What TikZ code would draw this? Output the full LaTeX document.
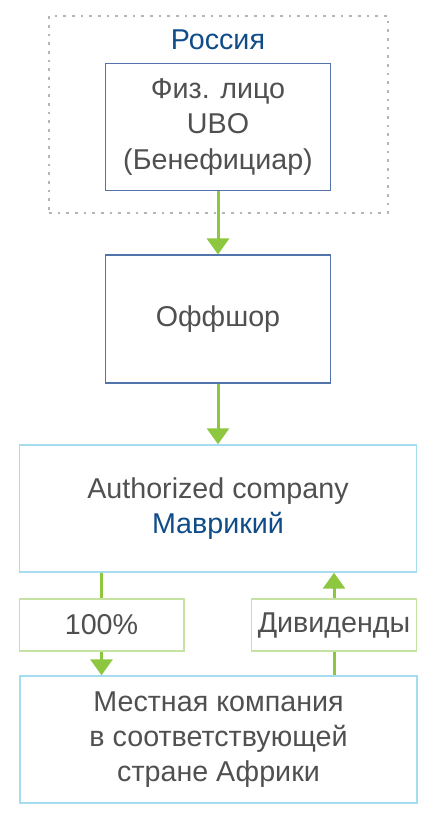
\documentclass[tikz,border=0pt]{standalone}
\usepackage{fontspec}
\setmainfont{Liberation Sans}
\usetikzlibrary{arrows.meta}
\definecolor{txtgray}{HTML}{505050}
\definecolor{rublue}{HTML}{0F4C88}
\definecolor{boxblue}{HTML}{5373AB}
\definecolor{lightblue}{HTML}{A6DCEF}
\definecolor{arrgreen}{HTML}{8DC63F}
\definecolor{lblgreen}{HTML}{C6E2A2}
\definecolor{dashgray}{HTML}{B5B5B5}

\begin{document}
\begin{tikzpicture}[x=0.75pt,y=-0.75pt,
    every node/.style={font=\fontsize{21.5}{26.3}\selectfont, text=txtgray, align=center},
    darkbox/.style={draw=boxblue, line width=0.8pt, minimum width=168.75pt, minimum height=95.25pt},
    widebox/.style={draw=lightblue, line width=1.1pt, minimum width=298pt, minimum height=95.25pt},
    lblbox/.style={draw=lblgreen, line width=1pt, fill=white, minimum width=123.5pt, minimum height=39pt, inner sep=1pt},
    conn/.style={draw=arrgreen, line width=2.25pt},
    arr/.style={conn, -{Triangle[length=12pt,width=16.5pt]}}]
    \useasboundingbox (0,0) rectangle (434,823);
    % Russia group
    \node[draw=dashgray, line width=1.1pt, dash pattern=on 2pt off 4.5pt, minimum width=254.25pt, minimum height=147.75pt] (russia) at (218.5,114.5) {};
    \node[text=rublue] (rulabel) at (218,40) {Россия};
    \node[darkbox] (ubo) at (218,127) {Физ. лицо\\UBO\\(Бенефициар)};
    \node[darkbox, minimum height=96pt] (offshore) at (218,319) {Оффшор};
    \node[widebox] (auth) at (218,508.5) {Authorized company\\\textcolor{rublue}{Маврикий}};
    \node[widebox] (local) at (218.5,739.5) {Местная компания\\в соответствующей\\стране Африки};
    \node[lblbox] (pct) at (101.5,625) {100\%};
    \node[lblbox] (div) at (334,625) {Дивиденды};
    % flows
    \draw[arr] (ubo) -- (offshore);
    \draw[arr] (offshore) -- (auth);
    \draw[conn] (pct.north |- auth.south) -- (pct);
    \draw[arr] (pct) -- (pct.south |- local.north);
    \draw[conn] (div.south |- local.north) -- (div);
    \draw[arr] (div) -- (div.north |- auth.south);
\end{tikzpicture}
\end{document}
